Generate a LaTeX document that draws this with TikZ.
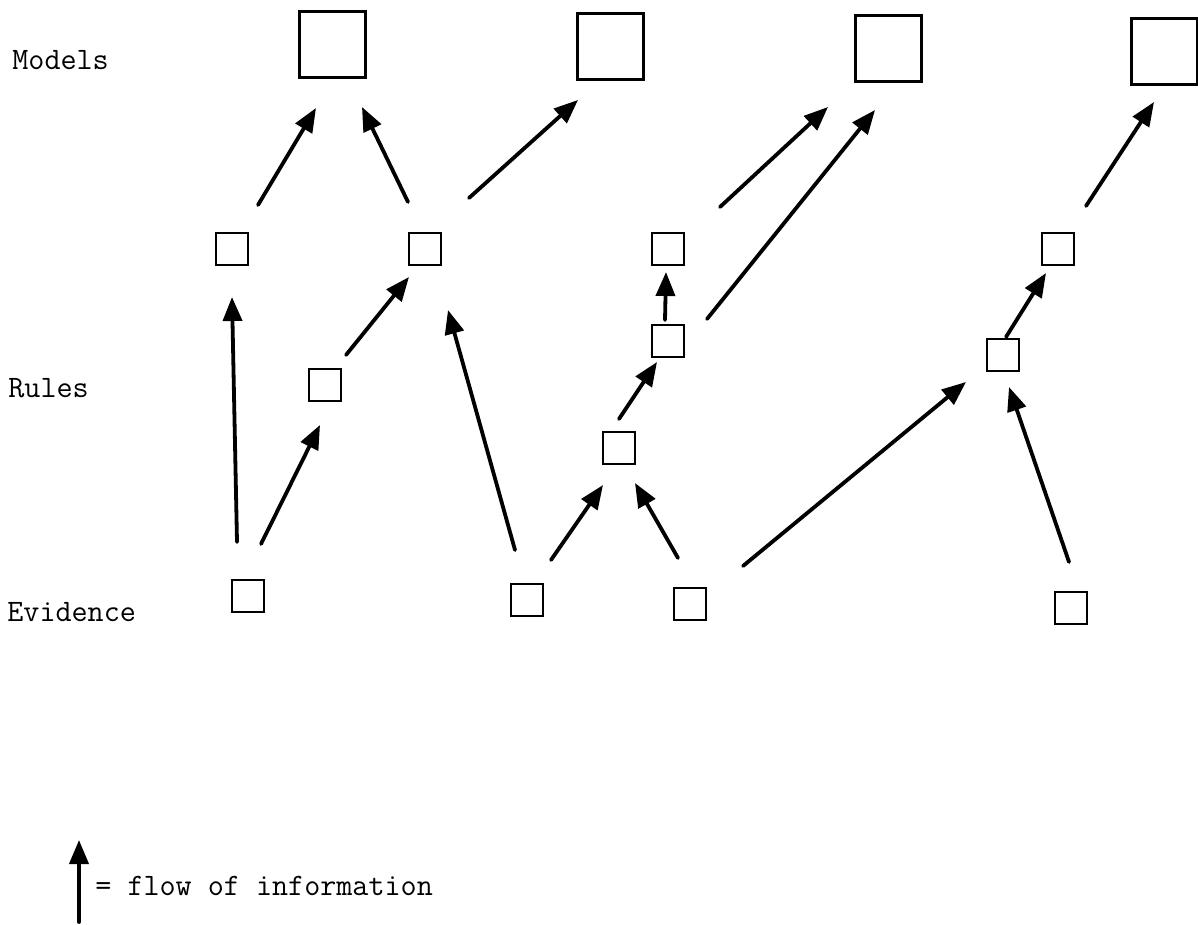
\documentclass[tikz,border=0pt]{standalone}
\usetikzlibrary{arrows.meta,calc}
\newcommand\lblfont{\ttfamily\fontsize{15.6}{18}\selectfont}
\tikzset{
  bigbox/.style={draw, line width=1.5pt, minimum width=33pt, minimum height=33pt, inner sep=0pt},
  smallbox/.style={draw, line width=1pt, minimum width=16pt, minimum height=16pt, inner sep=0pt},
  flow/.style={line width=1.9pt, line cap=round, -{Triangle[length=12pt,width=9.5pt]}},
  lbl/.style={anchor=base west, inner sep=0pt, font=\lblfont}
}
\begin{document}
\begin{tikzpicture}[x=0.5pt,y=-0.5pt]
\useasboundingbox (0,0) rectangle (1198,925);
% labels
\node[lbl] (tmodels) at (12,70) {Models};
\node[lbl] (trules) at (8,397) {Rules};
\node[lbl] (tevid) at (7,621) {Evidence};
% model boxes
\node[bigbox] (M1) at (332,45) {};
\node[bigbox] (M2) at (610,47) {};
\node[bigbox] (M3) at (888,49) {};
\node[bigbox] (M4) at (1164,52) {};
% rule boxes
\node[smallbox] (A) at (232,249) {};
\node[smallbox] (B) at (425,249) {};
\node[smallbox] (C) at (668,249) {};
\node[smallbox] (D) at (1058,249) {};
\node[smallbox] (R1) at (325,385) {};
\node[smallbox] (H) at (668,341) {};
\node[smallbox] (G) at (619,448) {};
\node[smallbox] (I) at (1003,355) {};
% evidence boxes
\node[smallbox] (E1) at (248,596) {};
\node[smallbox] (E2) at (527,600) {};
\node[smallbox] (E3) at (690,604) {};
\node[smallbox] (E4) at (1071,608) {};
% arrows
\draw[flow] ($(A)+(26,-44)$) -- ($(M1)+(-16,63)$);
\draw[flow] ($(B)+(-17,-47)$) -- ($(M1)+(30,62)$);
\draw[flow] ($(B)+(44,-51)$) -- ($(M2)+(-32,53)$);
\draw[flow] ($(E1)+(-11,-54)$) -- ($(A)+(0,48)$);
\draw[flow] ($(E1)+(13,-52)$) -- ($(R1)+(-5,40)$);
\draw[flow] ($(R1)+(21,-30)$) -- ($(B)+(-16,28)$);
\draw[flow] ($(E2)+(-12,-50)$) -- ($(B)+(23,61)$);
\draw[flow] ($(E2)+(24,-40)$) -- ($(G)+(-16,37)$);
\draw[flow] ($(E3)+(-12,-46)$) -- ($(G)+(16,35)$);
\draw[flow] ($(G)+(0,-29)$) -- ($(H)+(-11,21)$);
\draw[flow] ($(H)+(-3,-21)$) -- ($(C)+(-2,23)$);
\draw[flow] ($(H)+(39,-22)$) -- ($(M3)+(-13,61)$);
\draw[flow] ($(C)+(52,-42)$) -- ($(M3)+(-60,58)$);
\draw[flow] ($(E3)+(53,-38)$) -- ($(I)+(-37,27)$);
\draw[flow] ($(E4)+(-2,-46)$) -- ($(I)+(6,32)$);
\draw[flow] ($(I)+(3,-18)$) -- ($(D)+(-12,24)$);
\draw[flow] ($(D)+(28,-43)$) -- ($(M4)+(-10,50)$);
% legend
\coordinate (legbot) at (79,922);
\coordinate (legtop) at (79,840);
\draw[flow] (legbot) -- (legtop);
\node[lbl] (legtext) at (95,895) {= flow of information};
\end{tikzpicture}
\end{document}
